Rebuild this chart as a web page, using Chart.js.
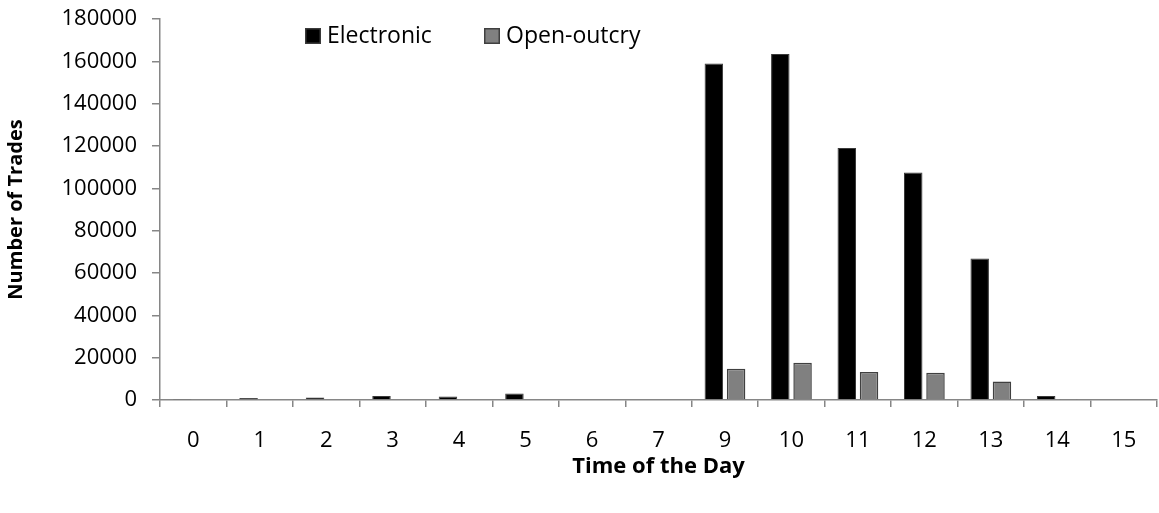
<!DOCTYPE html>
<html>
<head>
<meta charset="utf-8">
<script src="https://cdn.jsdelivr.net/npm/chart.js@4/dist/chart.umd.min.js"></script>
<style>
  html, body { margin: 0; padding: 0; background: #fff; }
  #wrap { width: 1159px; height: 513px; }
</style>
</head>
<body>
<div id="wrap"><canvas id="tradechart" width="1159" height="513"></canvas></div>
<script>
const hours = ['0', '1', '2', '3', '4', '5', '6', '7', '9', '10', '11', '12', '13', '14', '15'];
const electronicTrades = [500, 900, 1200, 1900, 1600, 3100, 0, 0, 159000, 163500, 119000, 107500, 66800, 1900, 0];
const openOutcryTrades = [0, 0, 0, 0, 0, 0, 0, 0, 14800, 17600, 13200, 12900, 8700, 500, 400];
const yTicks = [0, 20000, 40000, 60000, 80000, 100000, 120000, 140000, 160000, 180000];

const FONT = "'Open Sans', 'Liberation Sans', sans-serif";
const axisGrey = '#868686';

// legend sits inside the plot, near the top-left
const insideLegend = {
  id: 'insideLegend',
  afterDraw(chart) {
    const c = chart.ctx;
    const spots = [305, 484];
    c.save();
    c.font = '23px ' + FONT;
    c.textBaseline = 'middle';
    chart.data.datasets.forEach((ds, i) => {
      const x = spots[i];
      c.fillStyle = ds.backgroundColor;
      c.fillRect(x, 28, 16, 16);
      c.strokeStyle = ds.borderColor;
      c.lineWidth = 1.5;
      c.strokeRect(x + 0.75, 28.75, 14.5, 14.5);
      c.fillStyle = '#000';
      c.fillText(ds.label, x + 22, 36);
    });
    c.restore();
  }
};

const tradechart = new Chart(document.getElementById('tradechart').getContext('2d'), {
  type: 'bar',
  data: {
    labels: hours,
    datasets: [{
      label: 'Electronic',
      data: electronicTrades,
      backgroundColor: '#000000',
      borderColor: '#3a3a3a',
      borderWidth: 1,
      categoryPercentage: 0.67,
      barPercentage: 0.83
    }, {
      label: 'Open-outcry',
      data: openOutcryTrades,
      backgroundColor: '#808080',
      borderColor: '#404040',
      borderWidth: 1.5,
      categoryPercentage: 0.67,
      barPercentage: 0.83
    }]
  },
  options: {
    responsive: false,
    animation: false,
    layout: { padding: { top: 19, right: 2, left: 0, bottom: 33 } },
    plugins: {
      legend: { display: false },
      tooltip: { enabled: false }
    },
    scales: {
      x: {
        offset: true,
        grid: { offset: true, drawOnChartArea: false, tickLength: 7, color: axisGrey, lineWidth: 1.5 },
        border: { color: axisGrey, width: 1.5 },
        ticks: { color: '#000', font: { family: FONT, size: 22 }, padding: 21, maxRotation: 0 },
        title: { display: true, text: 'Time of the Day', color: '#000', font: { family: FONT, size: 22, weight: 'bold' }, padding: 0 },
        afterFit(scale) { scale.height = 80; scale.paddingLeft = 0; scale.paddingRight = 0; }
      },
      y: {
        min: 0,
        max: 180000,
        afterBuildTicks(scale) { scale.ticks = yTicks.map(v => ({ value: v })); },
        grid: { drawOnChartArea: false, tickLength: 8, color: axisGrey, lineWidth: 1.5 },
        border: { color: axisGrey, width: 1.5 },
        ticks: { color: '#000', font: { family: FONT, size: 22 }, padding: 15, callback: v => String(v) },
        title: { display: true, text: 'Number of Trades', color: '#000', font: { family: FONT, size: 20, weight: 'bold' }, padding: { bottom: 6 } },
        afterFit(scale) { scale.width = 160; scale.paddingTop = 0; scale.paddingBottom = 0; }
      }
    }
  },
  plugins: [insideLegend]
});
</script>
</body>
</html>
